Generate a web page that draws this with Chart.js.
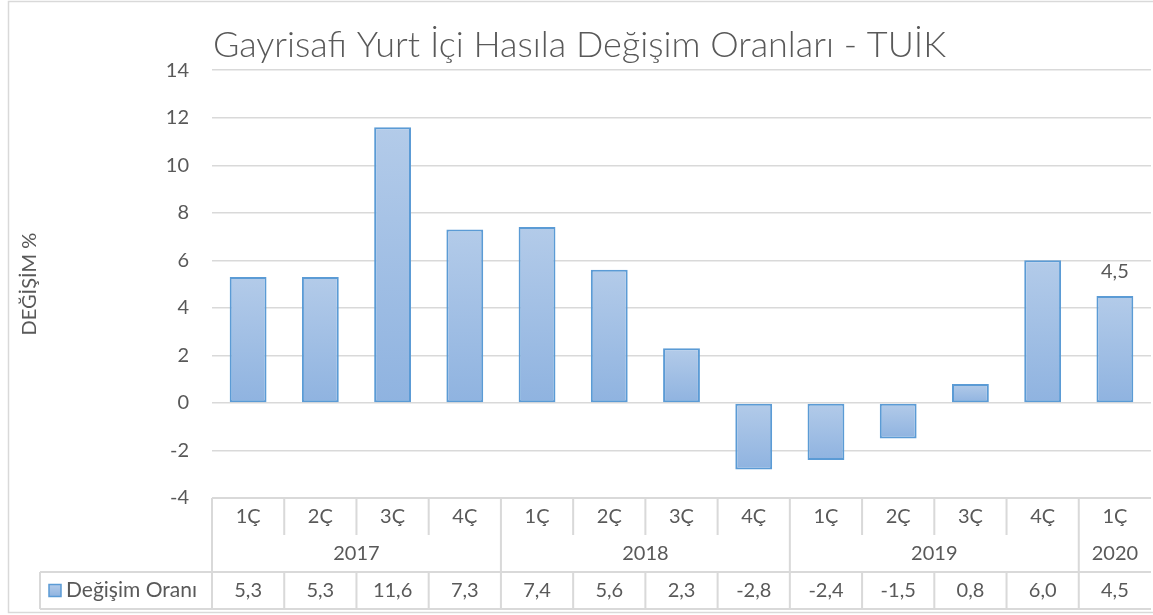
<!DOCTYPE html>
<html>
<head>
<meta charset="utf-8">
<script src="https://cdn.jsdelivr.net/npm/chart.js@4/dist/chart.umd.min.js"></script>
<style>
  body { margin: 0; background: #fff; }
  #wrap { width: 1153px; height: 615px; }
</style>
</head>
<body>
<div id="wrap"><canvas id="myChart" width="1153" height="615"></canvas></div>
<script>
const quarters = ['1Ç', '2Ç', '3Ç', '4Ç', '1Ç', '2Ç', '3Ç', '4Ç', '1Ç', '2Ç', '3Ç', '4Ç', '1Ç'];
const years = ['2017', '2017', '2017', '2017', '2018', '2018', '2018', '2018', '2019', '2019', '2019', '2019', '2020'];
const changeRates = [5.3, 5.3, 11.6, 7.3, 7.4, 5.6, 2.3, -2.8, -2.4, -1.5, 0.8, 6.0, 4.5];
const seriesName = 'Değişim Oranı';
const yTicks = [-4, -2, 0, 2, 4, 6, 8, 10, 12, 14];

const textColor = '#595959';
const lineColor = '#d9d9d9';
const fontFamily = 'Lato, "Open Sans", sans-serif';

function fmt(v) {
    return v.toFixed(1).replace('.', ',');
}

function barGradient(ctx, y1, y2) {
    const g = ctx.createLinearGradient(0, Math.min(y1, y2), 0, Math.max(y1, y2));
    g.addColorStop(0, '#b3cbe9');
    g.addColorStop(1, '#8fb3e0');
    return g;
}

// frame, data table and the single data label
const tablePlugin = {
    id: 'tablePlugin',
    beforeDraw(chart) {
        const ctx = chart.ctx;
        ctx.save();
        ctx.strokeStyle = lineColor;
        ctx.lineWidth = 1.5;
        ctx.strokeRect(8.5, 1.5, 1160, 611);
        ctx.restore();
    },
    afterDraw(chart) {
        const ctx = chart.ctx;
        const x = chart.scales.x;
        const area = chart.chartArea;
        const top = area.bottom;
        const rowH = 37;
        const r1 = top + rowH, r2 = top + rowH * 2, r3 = top + rowH * 3;
        const half = (x.getPixelForValue(1) - x.getPixelForValue(0)) / 2;
        const legendLeft = 40;

        ctx.save();
        ctx.strokeStyle = lineColor;
        ctx.lineWidth = 2;
        ctx.beginPath();
        ctx.moveTo(area.left, top); ctx.lineTo(area.right, top);
        ctx.moveTo(legendLeft, r2); ctx.lineTo(area.right, r2);
        ctx.moveTo(legendLeft, r3); ctx.lineTo(area.right, r3);
        ctx.moveTo(legendLeft, r2); ctx.lineTo(legendLeft, r3);
        ctx.moveTo(area.left, top); ctx.lineTo(area.left, r3);
        for (let i = 1; i < quarters.length; i++) {
            const bx = x.getPixelForValue(i) - half;
            if (years[i] !== years[i - 1]) {
                ctx.moveTo(bx, top); ctx.lineTo(bx, r3);
            } else {
                ctx.moveTo(bx, top); ctx.lineTo(bx, r1);
                ctx.moveTo(bx, r2); ctx.lineTo(bx, r3);
            }
        }
        ctx.stroke();

        ctx.fillStyle = textColor;
        ctx.font = '20px ' + fontFamily;
        ctx.textAlign = 'center';
        ctx.textBaseline = 'middle';
        for (let i = 0; i < quarters.length; i++) {
            const cx = x.getPixelForValue(i);
            ctx.fillText(quarters[i], cx, top + rowH / 2);
            ctx.fillText(fmt(changeRates[i]), cx, r2 + rowH / 2);
        }
        // year labels centered over their group
        let start = 0;
        for (let i = 1; i <= years.length; i++) {
            if (i === years.length || years[i] !== years[start]) {
                const cx = (x.getPixelForValue(start) + x.getPixelForValue(i - 1)) / 2;
                ctx.fillText(years[start], cx, r1 + rowH / 2);
                start = i;
            }
        }

        // legend key in data row
        const ky = r2 + rowH / 2;
        ctx.fillStyle = barGradient(ctx, ky - 6, ky + 6);
        ctx.fillRect(49, ky - 6, 12, 12);
        ctx.strokeStyle = '#5b9bd5';
        ctx.lineWidth = 1.5;
        ctx.strokeRect(49, ky - 6, 12, 12);
        ctx.fillStyle = textColor;
        ctx.textAlign = 'left';
        ctx.font = '21px ' + fontFamily;
        ctx.fillText(seriesName, 66, ky);

        // data label on last bar only
        ctx.font = '20px ' + fontFamily;
        const meta = chart.getDatasetMeta(0);
        const last = meta.data[meta.data.length - 1];
        ctx.textAlign = 'center';
        ctx.fillText(fmt(changeRates[changeRates.length - 1]), last.x, last.y - 24);
        ctx.restore();
    }
};

const ctx = document.getElementById('myChart');

new Chart(ctx, {
    type: 'bar',
    data: {
        labels: quarters,
        datasets: [{
            label: seriesName,
            data: changeRates,
            borderColor: '#5b9bd5',
            borderWidth: 2,
            borderSkipped: false,
            categoryPercentage: 1,
            barPercentage: 0.51,
            backgroundColor: (c) => {
                const chart = c.chart;
                if (!chart.chartArea || c.type !== 'data') return '#a5c3e6';
                const y = chart.scales.y;
                return barGradient(chart.ctx, y.getPixelForValue(c.parsed.y), y.getPixelForValue(0));
            }
        }]
    },
    options: {
        responsive: false,
        animation: false,
        layout: {
            padding: { left: 8, right: 2, top: 0, bottom: 117 }
        },
        plugins: {
            legend: { display: false },
            tooltip: { enabled: false },
            title: {
                display: true,
                text: 'Gayrisafi Yurt İçi Hasıla Değişim Oranları - TUİK',
                color: textColor,
                font: { family: fontFamily, size: 36, weight: '300', lineHeight: 1.2 },
                padding: { top: 24, bottom: 3 }
            }
        },
        scales: {
            x: {
                display: false
            },
            y: {
                min: -4,
                max: 14,
                afterBuildTicks: (scale) => {
                    scale.ticks = yTicks.map(v => ({ value: v }));
                },
                afterFit: (scale) => {
                    scale.width = 204;
                },
                border: { display: false },
                grid: { color: lineColor, lineWidth: 1.5, drawTicks: false },
                ticks: {
                    color: textColor,
                    padding: 23,
                    font: { family: fontFamily, size: 20 }
                },
                title: {
                    display: true,
                    text: 'DEĞİŞİM %',
                    color: textColor,
                    font: { family: fontFamily, size: 20, lineHeight: 1.2 },
                    padding: { top: 10, bottom: 0 }
                }
            }
        }
    },
    plugins: [tablePlugin]
});
</script>
</body>
</html>
